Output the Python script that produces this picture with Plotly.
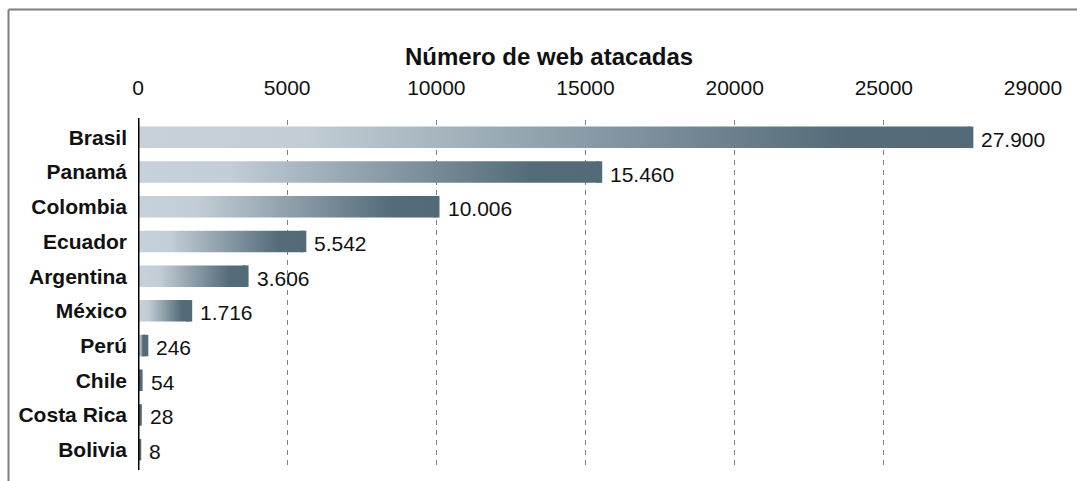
import plotly.graph_objects as go

# Datos
paises = ["Brasil", "Panamá", "Colombia", "Ecuador", "Argentina",
          "México", "Perú", "Chile", "Costa Rica", "Bolivia"]
webs = [27900, 15460, 10006, 5542, 3606, 1716, 246, 54, 28, 8]
titulo = "Número de web atacadas"
ticks_x = [0, 5000, 10000, 15000, 20000, 25000, 30000]
ticks_x_txt = ["0", "5000", "10000", "15000", "20000", "25000", "29000"]

W, H = 1077, 481
ML, MR, MT, MB = 138, 44, 120, 14
FONT = "Liberation Sans, Arial, sans-serif"
HALF = 0.31  # media altura de barra (en unidades de categoría)
OSCURO = "#536b78"

fig = go.Figure()

for i, (p, v) in enumerate(zip(paises, webs)):
    fig.add_trace(go.Scatter(
        x=[0, v, v, 0, 0],
        y=[i - HALF, i - HALF, i + HALF, i + HALF, i - HALF],
        mode="lines", fill="toself",
        line=dict(width=0),
        fillgradient=dict(
            type="horizontal",
            colorscale=[[0, "#c6d1d9"], [0.2, "#c2cdd5"], [0.85, "#546c79"], [1, OSCURO]],
        ),
        hoverinfo="text", hovertext=f"{p}: {v}",
        showlegend=False,
    ))
    # borde final de la barra (las barras pequeñas quedan visibles como en Excel)
    fig.add_trace(go.Scatter(
        x=[v, v], y=[i - HALF, i + HALF], mode="lines",
        line=dict(color=OSCURO, width=6),
        hoverinfo="skip", showlegend=False,
    ))
    fig.add_annotation(
        x=v, y=i, text=f"{v:,}".replace(",", "."),
        showarrow=False, xanchor="left", yanchor="middle",
        xshift=9, yshift=-2,
        font=dict(family=FONT, size=21, color="#111"),
    )

pw = W - ML - MR
ph = H - MT - MB

# eje vertical negro en x=0
fig.add_shape(type="line", xref="x", yref="paper", x0=0, x1=0,
              y0=-3 / ph, y1=1 + 2 / ph,
              line=dict(color="black", width=3), layer="above")

# marco gris (cortado a la derecha y abajo)
fx0 = (8.5 - ML) / pw
fy1 = 1 + (MT - 9.5) / ph
fig.add_shape(type="line", xref="paper", yref="paper", x0=fx0, x1=(W + 10 - ML) / pw,
              y0=fy1, y1=fy1, line=dict(color="#7f7f7f", width=2))
fig.add_shape(type="line", xref="paper", yref="paper", x0=fx0, x1=fx0,
              y0=fy1, y1=-(MB + 10) / ph, line=dict(color="#7f7f7f", width=2))

# título
fig.add_annotation(
    xref="paper", yref="paper", x=(549 - ML) / pw, y=1 + (MT - 56) / ph,
    text=f"<b>{titulo}</b>", showarrow=False, xanchor="center", yanchor="middle",
    font=dict(family=FONT, size=24, color="#111"),
)

fig.update_xaxes(
    range=[0, 30000], side="top",
    tickvals=ticks_x, ticktext=ticks_x_txt,
    tickfont=dict(family=FONT, size=21, color="#111"),
    ticks="", ticklabelstandoff=20,
    showgrid=True, gridcolor="#808080", gridwidth=1, griddash="5px,5px",
    zeroline=False, showline=False, fixedrange=True,
)
fig.update_yaxes(
    range=[len(paises) - 0.5, -0.5],
    tickvals=list(range(len(paises))), ticktext=paises,
    tickfont=dict(family=FONT, size=21, color="#111", weight="bold"),
    ticks="", ticklabelstandoff=10,
    showgrid=False, zeroline=False, showline=False, fixedrange=True,
)

fig.update_layout(
    width=W, height=H,
    margin=dict(l=ML, r=MR, t=MT, b=MB, autoexpand=False),
    paper_bgcolor="white", plot_bgcolor="white",
)

fig.write_html("out.html", config={"displayModeBar": False},
               post_script="document.body.style.margin='0';")
